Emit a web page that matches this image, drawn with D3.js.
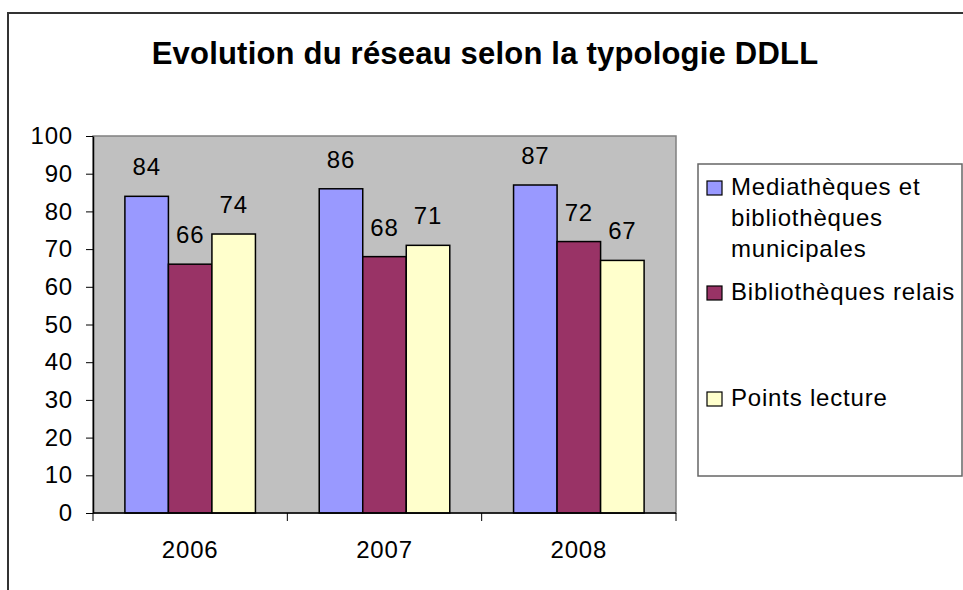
<!DOCTYPE html>
<html>
<head>
<meta charset="utf-8">
<script src="https://cdn.jsdelivr.net/npm/d3@7"></script>
<style>
  html, body { margin: 0; padding: 0; background: #fff; }
  svg { display: block; font-family: "Liberation Sans", Arial, sans-serif; }
  .lbl { letter-spacing: 0.8px; }
</style>
</head>
<body>
<svg id="chart" width="963" height="590"></svg>
<script>
// Réseau de lecture publique par typologie, 2006-2008
const years = ["2006", "2007", "2008"];
const seriesNames = [
  "Mediathèques et bibliothèques municipales",
  "Bibliothèques relais",
  "Points lecture"
];
const legendLines = [
  ["Mediathèques et", "bibliothèques", "municipales"],
  ["Bibliothèques relais"],
  ["Points lecture"]
];
const mediatheques = [84, 86, 87];
const relais = [66, 68, 72];
const pointsLecture = [74, 71, 67];
const yTicks = [0, 10, 20, 30, 40, 50, 60, 70, 80, 90, 100];
const colors = ["#9999FF", "#993366", "#FFFFCC"];

const seriesValues = [mediatheques, relais, pointsLecture];
const fontSize = 24;

const svg = d3.select("#chart");

// Outer chart frame
svg.append("rect")
  .attr("x", 8).attr("y", 13)
  .attr("width", 1000).attr("height", 700)
  .attr("fill", "none").attr("stroke", "#333").attr("stroke-width", 2);

// Title
svg.append("text")
  .attr("x", 485).attr("y", 64)
  .attr("text-anchor", "middle")
  .attr("font-size", 31).attr("font-weight", "bold")
  .attr("letter-spacing", "0.2px")
  .attr("fill", "#000")
  .text("Evolution du réseau selon la typologie DDLL");

// Plot area
const plot = { left: 93, right: 676, top: 136, bottom: 513 };

const x0 = d3.scaleBand().domain(years).range([plot.left, plot.right]).padding(0);
const x1 = d3.scaleBand().domain(d3.range(seriesNames.length))
  .range([0, x0.bandwidth()]).paddingInner(0).paddingOuter(0.733);
const y = d3.scaleLinear().domain([0, 100]).range([plot.bottom, plot.top]);

svg.append("rect")
  .attr("x", plot.left).attr("y", plot.top)
  .attr("width", plot.right - plot.left).attr("height", plot.bottom - plot.top)
  .attr("fill", "#C0C0C0").attr("stroke", "#808080").attr("stroke-width", 1.5);

// Bars
const groups = svg.append("g").selectAll("g")
  .data(years)
  .join("g")
  .attr("transform", d => `translate(${x0(d)},0)`);

groups.selectAll("rect")
  .data((yr, i) => seriesValues.map((vals, s) => ({ s, v: vals[i] })))
  .join("rect")
  .attr("x", d => x1(d.s))
  .attr("y", d => y(d.v))
  .attr("width", x1.bandwidth())
  .attr("height", d => y(0) - y(d.v))
  .attr("fill", d => colors[d.s])
  .attr("stroke", "#000").attr("stroke-width", 1.5);

// Value labels
groups.selectAll("text")
  .data((yr, i) => seriesValues.map((vals, s) => ({ s, v: vals[i] })))
  .join("text")
  .attr("class", "lbl")
  .attr("x", d => x1(d.s) + x1.bandwidth() / 2)
  .attr("y", d => y(d.v) - 21)
  .attr("text-anchor", "middle")
  .attr("font-size", fontSize)
  .attr("fill", "#000")
  .text(d => d.v);

// Y axis
const yAxis = svg.append("g")
  .attr("transform", `translate(${plot.left},0)`)
  .call(d3.axisLeft(y).tickValues(yTicks).tickSize(7).tickPadding(13).tickSizeOuter(0));
yAxis.select(".domain").attr("stroke", "#000").attr("stroke-width", 1.5);
yAxis.selectAll(".tick line").attr("stroke", "#000");
yAxis.selectAll(".tick text")
  .attr("class", "lbl")
  .attr("font-size", fontSize).attr("font-family", "Liberation Sans, Arial, sans-serif")
  .attr("fill", "#000");

// X axis: line, boundary ticks and centred year labels
const xAxis = svg.append("g");
xAxis.append("line")
  .attr("x1", plot.left).attr("x2", plot.right)
  .attr("y1", plot.bottom).attr("y2", plot.bottom)
  .attr("stroke", "#000").attr("stroke-width", 1.5);
const edges = years.map(d => x0(d)).concat([x0(years[years.length - 1]) + x0.bandwidth()]);
xAxis.selectAll("line.tick")
  .data(edges)
  .join("line")
  .attr("class", "tick")
  .attr("x1", d => d).attr("x2", d => d)
  .attr("y1", plot.bottom).attr("y2", plot.bottom + 8)
  .attr("stroke", "#000").attr("stroke-width", 1);
xAxis.selectAll("text")
  .data(years)
  .join("text")
  .attr("class", "lbl")
  .attr("x", d => x0(d) + x0.bandwidth() / 2)
  .attr("y", 558)
  .attr("text-anchor", "middle")
  .attr("font-size", fontSize)
  .attr("fill", "#000")
  .text(d => d);

// Legend
const legend = svg.append("g");
legend.append("rect")
  .attr("x", 698).attr("y", 164)
  .attr("width", 264).attr("height", 312)
  .attr("fill", "#fff").attr("stroke", "#666").attr("stroke-width", 1.5);

const legendBaselines = [195, 300, 406];
const item = legend.selectAll("g.item")
  .data(seriesNames)
  .join("g")
  .attr("class", "item");

item.append("rect")
  .attr("x", 707)
  .attr("y", (d, i) => legendBaselines[i] - 14)
  .attr("width", 15).attr("height", 14)
  .attr("fill", (d, i) => colors[i])
  .attr("stroke", "#000").attr("stroke-width", 1.2);

item.append("text")
  .attr("class", "lbl")
  .attr("x", 731)
  .attr("y", (d, i) => legendBaselines[i])
  .attr("font-size", fontSize)
  .attr("fill", "#000")
  .selectAll("tspan")
  .data((d, i) => legendLines[i])
  .join("tspan")
  .attr("x", 731)
  .attr("dy", (d, j) => j === 0 ? 0 : 31)
  .text(d => d);
</script>
</body>
</html>
